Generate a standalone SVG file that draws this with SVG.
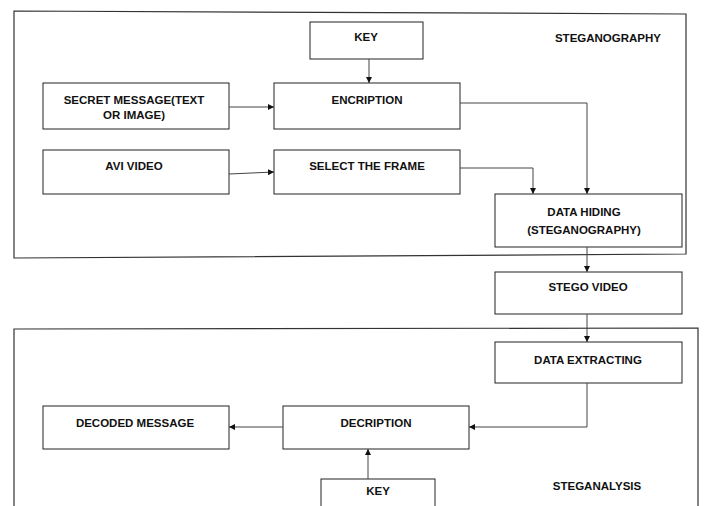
<svg xmlns="http://www.w3.org/2000/svg" width="704" height="506" viewBox="0 0 704 506">
<style>
.frame{fill:none;stroke:#333;stroke-width:1.2}
.box{fill:#fff;stroke:#222;stroke-width:1}
.t{font-family:"Liberation Sans",Arial,sans-serif;font-weight:bold;font-size:11.5px;fill:#111;text-anchor:middle}
.c{fill:none;stroke:#444;stroke-width:1}
</style>
<defs>
<marker id="ah" viewBox="0 0 10 10" refX="10" refY="5" markerWidth="6" markerHeight="6" markerUnits="userSpaceOnUse" orient="auto">
<path d="M0,0 L10,5 L0,10 z" fill="#111"/>
</marker>
</defs>
<rect width="704" height="506" fill="#fff"/>
<g id="frame-steganography">
<path class="frame" d="M14,11 L686,14 L686,254 L14,258 Z"/>
<text class="t" x="608" y="42">STEGANOGRAPHY</text>
</g>
<g id="frame-steganalysis">
<path class="frame" d="M14,520 L14,329 L698,328 L698,520"/>
<text class="t" x="597" y="490">STEGANALYSIS</text>
</g>
<g id="key1"><rect class="box" x="310" y="22" width="113" height="37"/><text class="t" x="366" y="41">KEY</text></g>
<g id="secret"><rect class="box" x="43" y="83" width="186" height="46"/><text class="t" x="134" y="104">SECRET MESSAGE(TEXT</text><text class="t" x="134" y="119">OR IMAGE)</text></g>
<g id="encription"><rect class="box" x="274" y="83" width="186" height="46"/><text class="t" x="367" y="104">ENCRIPTION</text></g>
<g id="avi"><rect class="box" x="43" y="150" width="186" height="44"/><text class="t" x="134" y="170">AVI VIDEO</text></g>
<g id="select"><rect class="box" x="274" y="150" width="186" height="44"/><text class="t" x="367" y="170">SELECT THE FRAME</text></g>
<g id="hiding"><rect class="box" x="495" y="194" width="187" height="53"/><text class="t" x="584" y="216">DATA HIDING</text><text class="t" x="584" y="234">(STEGANOGRAPHY)</text></g>
<g id="stego"><rect class="box" x="495" y="272" width="187" height="42"/><text class="t" x="588" y="291">STEGO VIDEO</text></g>
<g id="extract"><rect class="box" x="495" y="342" width="187" height="41"/><text class="t" x="588" y="364">DATA EXTRACTING</text></g>
<g id="decoded"><rect class="box" x="43" y="406" width="186" height="43"/><text class="t" x="135" y="427">DECODED MESSAGE</text></g>
<g id="decription"><rect class="box" x="283" y="406" width="186" height="43"/><text class="t" x="376" y="427">DECRIPTION</text></g>
<g id="key2"><rect class="box" x="321" y="479" width="114" height="40"/><text class="t" x="378" y="495">KEY</text></g>
<g id="connectors">
<path class="c" marker-end="url(#ah)" d="M369,59 L369,83"/>
<path class="c" marker-end="url(#ah)" d="M229,107 L274,107"/>
<path class="c" marker-end="url(#ah)" d="M229,174 L274,172"/>
<path class="c" marker-end="url(#ah)" d="M460,103 L587,103 L587,194"/>
<path class="c" marker-end="url(#ah)" d="M460,168 L533,168 L533,194"/>
<path class="c" marker-end="url(#ah)" d="M587,247 L587,272"/>
<path class="c" marker-end="url(#ah)" d="M587,314 L587,342"/>
<path class="c" marker-end="url(#ah)" d="M587,383 L587,427 L469,427"/>
<path class="c" marker-end="url(#ah)" d="M283,427 L229,427"/>
<path class="c" marker-end="url(#ah)" d="M368,479 L368,449"/>
</g>
</svg>
